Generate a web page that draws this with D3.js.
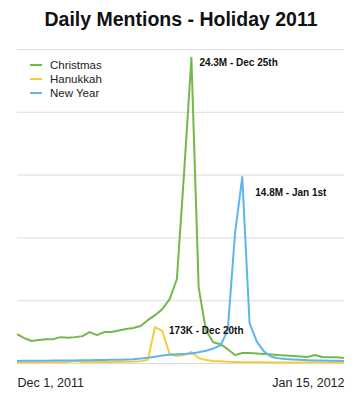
<!DOCTYPE html>
<html>
<head>
<meta charset="utf-8">
<script src="https://cdn.jsdelivr.net/npm/d3@7"></script>
<style>
	body { margin: 0; background: #fff; }
	svg { display: block; font-family: "Liberation Sans", Arial, Helvetica, sans-serif; }
</style>
</head>
<body>
<div id="chartDiv"></div>
<script>
; (function () {

	var width = 362;
	var height = 400;
	var margin = { top: 49, right: 18, bottom: 36, left: 17 };

	// daily mentions, Dec 1 2011 -> Jan 15 2012 (millions)
	var christmas = [2.30, 1.98, 1.75, 1.83, 1.90, 1.90, 2.06, 2.02, 2.06, 2.14,
		2.46, 2.22, 2.46, 2.46, 2.58, 2.70, 2.78, 2.94, 3.41, 3.81,
		4.29, 5.08, 6.67, 15.2, 24.3, 6.0, 2.6, 1.65, 1.5, 1.1,
		0.63, 0.8, 0.8, 0.75, 0.71, 0.68, 0.63, 0.6, 0.56, 0.52,
		0.48, 0.63, 0.48, 0.45, 0.45, 0.40];
	var newYear = [0.16, 0.17, 0.17, 0.18, 0.18, 0.19, 0.19, 0.2, 0.2, 0.21,
		0.22, 0.23, 0.24, 0.25, 0.26, 0.28, 0.3, 0.35, 0.42, 0.5,
		0.6, 0.65, 0.7, 0.72, 0.75, 0.85, 0.98, 1.15, 1.4, 2.6,
		10.3, 14.8, 3.2, 1.7, 0.9, 0.5, 0.38, 0.32, 0.28, 0.25,
		0.22, 0.2, 0.19, 0.18, 0.17, 0.16];
	// Hanukkah is plotted on its own scale (thousands)
	var hanukkah = [3, 3, 3, 3, 3.5, 4, 4, 5, 9, 5,
		5, 5, 5, 5, 6, 6, 7, 9, 15, 173,
		154, 43, 34, 38, 53, 24, 14, 10, 8, 6,
		5, 4, 4, 4, 4, 3, 3, 3, 3, 3,
		3, 3, 3, 3, 3, 3];

	var seriesNames = ["Christmas", "Hanukkah", "New Year"];
	var seriesColors = ["#74b84c", "#f6cb33", "#5bb5ef"];
	var gridTicks = [0, 5, 10, 15, 20, 25];

	var startDate = new Date(2011, 11, 1);
	var endDate = new Date(2012, 0, 15);

	var annotations = [
		{ text: "24.3M - Dec 25th", series: 0, day: 24, dx: 8, dy: 8 },
		{ text: "14.8M - Jan 1st", series: 2, day: 31, dx: 13, dy: 19 },
		{ text: "173K - Dec 20th", series: 1, day: 19, dx: 14, dy: 7 }
	];

	var chart, chartWidth, chartHeight;

	init();

	function init() {
		chartWidth = width - margin.left - margin.right;
		chartHeight = height - margin.top - margin.bottom - 1;

		chart = d3.select("#chartDiv").append("svg")
			.attr("width", width)
			.attr("height", height);

		chart.plotArea = chart.append("g")
			.attr("transform", "translate(" + margin.left + "," + margin.top + ")");

		createScales();
		drawGrid();
		drawLines();
		drawLabels();
	}

	function dayDate(i) {
		return d3.timeDay.offset(startDate, i);
	}

	function createScales() {
		chart.xScale = d3.scaleTime()
			.domain([startDate, endDate])
			.range([0, chartWidth]);

		chart.yScale = d3.scaleLinear()
			.domain([0, 25])
			.range([chartHeight, 0]);

		chart.yScaleK = d3.scaleLinear()
			.domain([0, 1510])
			.range([chartHeight, 0]);
	}

	function drawGrid() {
		var grid = chart.plotArea.append("g")
			.attr("class", "grid")
			.call(d3.axisLeft(chart.yScale)
				.tickValues(gridTicks)
				.tickSize(-chartWidth)
				.tickFormat(""));
		grid.select(".domain").remove();
		grid.selectAll("line").attr("stroke", "#dcdcdc").attr("stroke-width", 1);

		var xAxis = chart.plotArea.append("g")
			.attr("transform", "translate(0," + chartHeight + ")")
			.call(d3.axisBottom(chart.xScale)
				.tickValues([startDate, endDate])
				.tickSize(0)
				.tickPadding(15)
				.tickFormat(d3.timeFormat("%b %-d, %Y")));
		xAxis.select(".domain").remove();
		xAxis.selectAll("text")
			.attr("fill", "#222")
			.style("font-size", "12.5px")
			.attr("text-anchor", function (d, i) { return i === 0 ? "start" : "end"; });
	}

	function drawLines() {
		var lineM = d3.line()
			.x(function (d, i) { return chart.xScale(dayDate(i)); })
			.y(function (d) { return chart.yScale(d); });
		var lineK = d3.line()
			.x(function (d, i) { return chart.xScale(dayDate(i)); })
			.y(function (d) { return chart.yScaleK(d); });

		var lines = [
			{ path: lineM(christmas), color: seriesColors[0] },
			{ path: lineK(hanukkah), color: seriesColors[1] },
			{ path: lineM(newYear), color: seriesColors[2] }
		];

		chart.plotArea.selectAll(".series")
			.data(lines)
			.enter().append("path")
			.attr("class", "series")
			.attr("d", function (d) { return d.path; })
			.attr("fill", "none")
			.attr("stroke", function (d) { return d.color; })
			.attr("stroke-width", 2)
			.attr("stroke-linejoin", "round");
	}

	function seriesY(s, i) {
		if (s === 0) return chart.yScale(christmas[i]);
		if (s === 1) return chart.yScaleK(hanukkah[i]);
		return chart.yScale(newYear[i]);
	}

	function drawLabels() {
		chart.append("text")
			.attr("x", width / 2)
			.attr("y", 26)
			.attr("text-anchor", "middle")
			.style("font-size", "19.5px")
			.style("font-weight", "bold")
			.attr("fill", "#111")
			.text("Daily Mentions - Holiday 2011");

		var legend = chart.append("g")
			.attr("transform", "translate(30,65)");
		var items = legend.selectAll("g")
			.data(seriesNames)
			.enter().append("g")
			.attr("transform", function (d, i) { return "translate(0," + (i * 14) + ")"; });
		items.append("line")
			.attr("x1", 0).attr("x2", 12)
			.attr("stroke", function (d, i) { return seriesColors[i]; })
			.attr("stroke-width", 2);
		items.append("text")
			.attr("x", 20)
			.attr("y", 4)
			.style("font-size", "11.5px")
			.attr("fill", "#222")
			.text(function (d) { return d; });

		chart.plotArea.selectAll(".note")
			.data(annotations)
			.enter().append("text")
			.attr("class", "note")
			.attr("x", function (d) { return chart.xScale(dayDate(d.day)) + d.dx; })
			.attr("y", function (d) { return seriesY(d.series, d.day) + d.dy; })
			.style("font-size", "10px")
			.style("font-weight", "bold")
			.attr("fill", "#111")
			.text(function (d) { return d.text; });
	}

})();
</script>
</body>
</html>
